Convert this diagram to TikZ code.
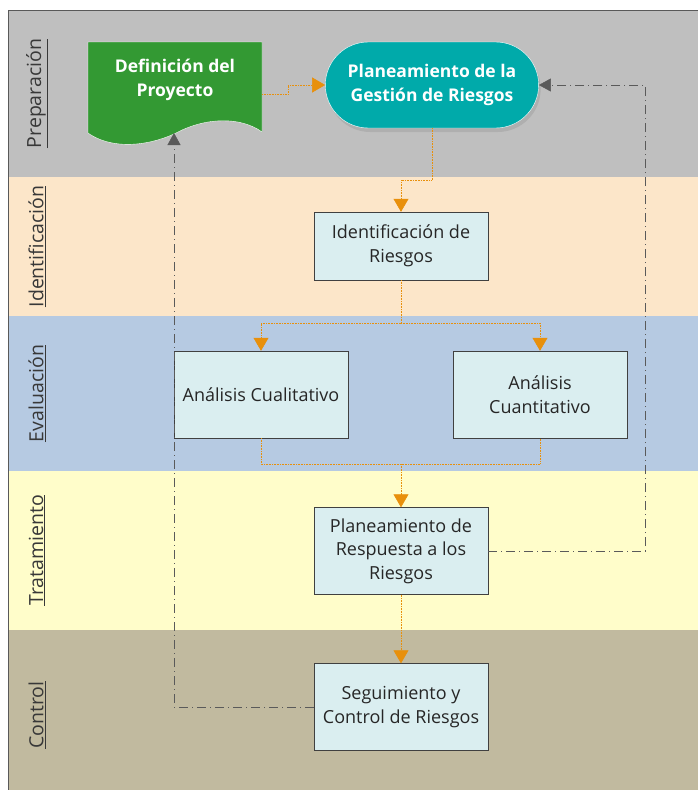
\documentclass[tikz,border=0pt]{standalone}
\usepackage{fontspec}
\setmainfont{Open Sans}
\usetikzlibrary{arrows.meta, shapes.misc, shadows, positioning}

\definecolor{lanePrep}{HTML}{BFBFBF}
\definecolor{laneIdent}{HTML}{FCE6C9}
\definecolor{laneEval}{HTML}{B6CAE2}
\definecolor{laneTrat}{HTML}{FFFDCA}
\definecolor{laneCtrl}{HTML}{C1BA9F}
\definecolor{procfill}{HTML}{DAEEF0}
\definecolor{defgreen}{HTML}{339933}
\definecolor{planteal}{HTML}{00AAAA}
\definecolor{flowor}{HTML}{E8900C}
\definecolor{backgr}{HTML}{5A5A5A}

\begin{document}
\begin{tikzpicture}[x=1pt, y=-1pt, font=\fontsize{18}{23.5}\selectfont,
    proc/.style={draw=black!75, fill=procfill, minimum width=174pt, minimum height=87pt,
        align=center, text=black!85, inner sep=2pt},
    plan/.style={rounded rectangle, draw=white, fill=planteal, minimum width=220pt,
        minimum height=86pt, align=center, text=white, font=\fontsize{17.5}{24.5}\selectfont\bfseries,
        drop shadow={opacity=0.25, shadow xshift=2pt, shadow yshift=-4pt}},
    deftext/.style={align=center, text=white, font=\fontsize{17.5}{24.5}\selectfont\bfseries,
        minimum width=174pt},
    flowline/.style={draw=flowor, densely dotted, semithick},
    flow/.style={flowline, -{Triangle[length=13pt, width=15pt]}},
    back/.style={draw=backgr, thin, dash pattern=on 9pt off 4pt on 1pt off 4pt,
        -{Triangle[length=12pt, width=13pt]}}]
\useasboundingbox (0,0) rectangle (697,790);
% swimlanes
\foreach \top/\bot/\name/\col in {%
    10/177/Preparación/lanePrep,
    177/316/Identificación/laneIdent,
    316/471/Evaluación/laneEval,
    471/630/Tratamiento/laneTrat,
    630/800/Control/laneCtrl%
} {
    \fill[\col] (8,\top) rectangle (710,\bot);
    \draw[white!80!gray] (8,\bot) -- (710,\bot);
    \node[rotate=90, font=\fontsize{19.5}{22}\selectfont, text=black!78] at (37,{(\top+\bot)/2}) {\underline{\name}};
}
\draw[black!65, line width=1pt] (8,800) -- (8,10) -- (710,10);
% project definition (document shape)
\fill[defgreen, draw=white] (88,42) -- (262,42) -- (262,132)
    .. controls (240,116) and (205,118) .. (178,132)
    .. controls (155,144) and (115,152) .. (88,133) -- cycle;
\node[deftext] (def) at (175,80) {Definición del\\Proyecto};
\coordinate (defbottom) at (174,133);
\node[plan] (plan) at (432,85) {Planeamiento de la\\Gestión de Riesgos};
\node[proc, minimum height=68pt] (ident) at (401,246) {Identificación de\\Riesgos};
\node[proc] (cuali) at (261,394.5) {Análisis Cualitativo};
\node[proc] (cuanti) at (540,394.5) {Análisis\\Cuantitativo};
\node[proc] (resp) at (401,551) {Planeamiento de\\Respuesta a los\\Riesgos};
\node[proc] (segui) at (401,707) {Seguimiento y\\Control de Riesgos};
\coordinate (split) at (401,323);
\coordinate (join) at (401,464);
% main flow
\draw[flow] ([yshift=-14pt]def.east) -- ++(26,0) |- (plan.west);
\draw[flow] (plan.south) -- ++(0,52) -| (ident.north);
\draw[flowline] (ident.south) -- (split);
\draw[flow] (split) -| (cuali.north);
\draw[flow] (split) -| (cuanti.north);
\draw[flowline] (cuali.south) |- (join) -| (cuanti.south);
\draw[flow] (join) -- (resp.north);
\draw[flow] (resp.south) -- (segui.north);
% feedback
\draw[back] (resp.east) -- ++(157,0) |- (plan.east);
\draw[back] (segui.west) -| (defbottom);
\end{tikzpicture}
\end{document}
